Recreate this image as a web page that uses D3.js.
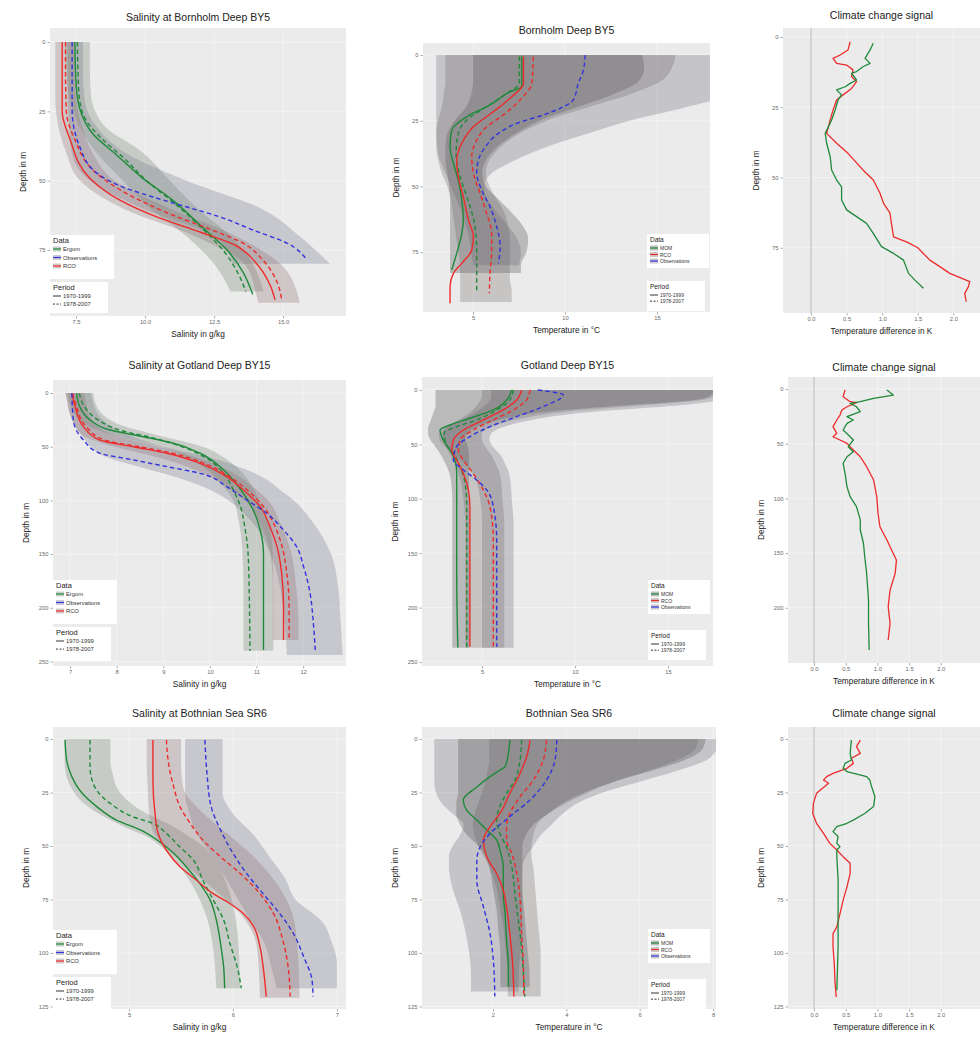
<!DOCTYPE html>
<html><head><meta charset="utf-8">
<script src="https://cdn.jsdelivr.net/npm/d3@7"></script>
<style>body{margin:0;background:#fff}svg{display:block}text{font-family:"Liberation Sans",Arial,Helvetica,sans-serif}</style>
</head><body><svg id="c" width="980" height="1038"></svg>
<script>
// ---------------- DATA ----------------
// pairs are [depth in m, value]; bands are [depth, low, high]
const dataLegendSal = ["Ergom","Observations","RCO"];
const dataLegendTemp = ["MOM","RCO","Observations"];
const periodLabels = ["1970-1999","1978-2007"];

// Row 1: Bornholm Deep BY5
const depthTicksBY5 = [0,25,50,75];
const salTicksBY5 = [7.5,10,12.5,15];
const tempTicksBY5 = [5,10,15];
const diffTicks = [0,0.5,1,1.5,2];

const by5SalErgom70 = [[0,7.46],[10,7.48],[20,7.55],[24.5,7.65],[33,8.1],[41,9.0],[49,9.9],[57,11.0],[67,12.1],[75,12.97],[83,13.55],[91,13.9]];
const by5SalErgom78 = [[0,7.55],[10,7.57],[20,7.62],[28,7.85],[35,8.45],[42,9.25],[50,10.05],[58,11.05],[68,12.15],[76,12.9],[84,13.4],[90,13.65]];
const by5SalObs78 = [[0,7.36],[10,7.36],[24.5,7.36],[37.9,7.64],[47.3,8.26],[52.3,9.2],[55.9,10.29],[59.5,11.52],[63.1,12.72],[67.8,13.91],[72.5,15.14],[78.6,15.87]];
const by5SalRco70 = [[0,7.0],[10,7.0],[25,7.0],[35,7.28],[49,7.99],[57,9.09],[63.5,10.54],[68.5,11.99],[73.2,13.26],[79.3,13.99],[87.6,14.53],[93,14.71]];
const by5SalRco78 = [[0,7.12],[10,7.12],[25,7.15],[35,7.45],[47,8.2],[55,9.4],[62,10.9],[67.5,12.35],[72.5,13.55],[79,14.3],[87,14.8],[93,14.95]];
const by5SalErgomBand = [[0,7.1,8.0],[10,7.15,8.0],[20,7.25,8.05],[25,7.4,8.2],[30,7.6,8.5],[40,8.25,9.94],[50,9.2,10.9],[60,10.2,11.9],[70,11.5,13.1],[80,12.5,13.9],[90,13.1,14.3]];
const by5SalObsBand = [[0,7.2,7.75],[10,7.2,7.75],[20,7.2,7.8],[30,7.25,8.2],[40,7.35,9.3],[50,8.0,11.5],[60,9.9,14.2],[70,12.5,15.6],[80,13.2,16.7]];
const by5SalRcoBand = [[0,6.75,7.45],[10,6.75,7.45],[20,6.75,7.5],[30,6.85,7.7],[40,7.15,8.1],[50,7.65,8.9],[60,9.2,10.9],[70,11.8,13.3],[80,13.6,14.9],[90,14.0,15.5],[94,14.1,15.6]];

const by5TempMom70 = [[0.6,7.65],[12.1,7.65],[14,7.01],[19,5.92],[23.5,4.66],[28.6,3.84],[34.9,3.75],[41.2,3.93],[47.6,4.2],[55.2,4.39],[62.8,4.47],[67.9,4.39],[75.5,4.11],[81.8,3.84]];
const by5TempMom78 = [[0.6,7.52],[10.8,7.52],[14.6,6.83],[19.7,5.74],[24.7,4.66],[29.8,4.2],[37.4,4.08],[43.8,4.2],[50.1,4.47],[57.7,4.84],[65.4,5.11],[75.5,5.2],[83.1,5.2],[90.7,5.2]];
const by5TempRco70 = [[0.6,7.74],[10.8,7.74],[15.9,7.1],[21.6,6.1],[27.3,5.02],[33.6,4.39],[40,4.11],[46.3,4.2],[53.9,4.47],[62.8,4.75],[69.2,5.02],[74.2,4.93],[79.3,4.39],[83.1,3.93],[88.2,3.75],[94.5,3.75]];
const by5TempRco78 = [[0.6,8.28],[10.8,8.19],[17.1,7.55],[22.8,6.65],[27.3,5.74],[32.4,5.2],[38.7,4.93],[45,5.02],[52.6,5.38],[60.3,5.74],[67.9,6.01],[75.5,6.01],[83.1,5.92],[90.7,5.89]];
const by5TempObs78 = [[0,11.09],[5.7,11.0],[10.8,10.72],[17.1,10.45],[19.7,9.91],[22.8,8.82],[26,7.38],[29.8,6.38],[34.3,5.74],[40,5.29],[45,5.2],[51.4,5.47],[57.7,5.92],[65.4,6.29],[73,6.47],[79.3,6.38]];
const by5TempMomBand = [[0,5.0,14.2],[5,5.0,14.3],[10,5.0,14.0],[15,4.9,12.6],[20,4.6,10.6],[25,4.0,8.6],[30,3.6,7.3],[35,3.5,6.3],[40,3.5,5.7],[45,3.6,5.5],[50,3.7,5.7],[55,3.75,6.4],[60,3.75,7.1],[65,3.75,7.7],[70,3.75,8.0],[75,3.75,7.9],[80,3.75,7.6],[83,3.75,7.6]];
const by5TempRcoBand = [[0,3.5,16.0],[5,3.5,15.8],[10,3.5,15.2],[15,3.4,13.5],[20,3.3,11.2],[25,3.1,9.0],[30,3.0,7.5],[35,3.0,6.5],[40,3.1,5.9],[45,3.3,5.7],[50,3.6,5.9],[55,3.8,6.3],[60,3.9,6.7],[65,4.0,6.9],[70,4.1,7.0],[75,4.2,7.0],[80,4.3,7.0],[85,4.3,7.0],[90,4.3,7.1],[94,4.3,7.1]];
const by5TempObsBand = [[0,3.0,19],[5,3.0,19],[10,3.0,19],[15,3.0,18.8],[20,3.0,16.5],[25,3.0,13.5],[30,3.0,11.2],[35,3.05,9.0],[40,3.2,7.3],[45,3.5,6.0],[50,3.8,5.6],[55,4.1,5.8],[60,4.4,6.3],[65,4.6,6.9],[70,4.8,7.4],[75,4.9,7.6],[80,5.0,7.5]];

const by5DiffRco = [[1.7,0.55],[4.6,0.52],[6.4,0.41],[7.6,0.31],[9.4,0.36],[10,0.5],[11.7,0.59],[14.1,0.57],[15.9,0.64],[18.3,0.57],[20.6,0.45],[22.4,0.36],[26,0.31],[29.5,0.27],[34.3,0.22],[37.8,0.36],[41.4,0.52],[47.3,0.73],[50.9,0.875],[55.6,0.97],[59.2,1.02],[62.7,1.11],[66.3,1.13],[71.1,1.16],[73,1.35],[75,1.5],[79.4,1.67],[81.7,1.81],[84.1,1.95],[85.9,2.12],[87,2.23],[88.9,2.21],[91.2,2.16],[94.2,2.18]];
const by5DiffMom = [[2.2,0.875],[4.6,0.83],[7.6,0.76],[9.4,0.83],[10.6,0.73],[12.3,0.64],[12.9,0.57],[15.3,0.64],[16.5,0.55],[17.7,0.48],[18.8,0.36],[20.6,0.43],[22.4,0.38],[26,0.34],[29.5,0.29],[34.3,0.2],[37.8,0.22],[42.6,0.27],[47.3,0.29],[50.9,0.36],[53.3,0.43],[58,0.43],[61.5,0.5],[63.9,0.64],[66.3,0.78],[69.9,0.875],[74.6,0.99],[77,1.16],[79.4,1.3],[84.1,1.37],[86.5,1.46],[89.4,1.58]];

// Row 2: Gotland Deep BY15
const depthTicksBY15 = [0,50,100,150,200,250];
const depthTicksBY15diff = [0,50,100,150,200];
const salTicksBY15 = [7,8,9,10,11,12];
const tempTicksBY15 = [5,10,15];

const by15SalErgom70 = [[0.3,7.14],[12.8,7.21],[25.1,7.43],[34.5,7.86],[40.7,8.57],[46.8,9.22],[56.1,9.79],[68.6,10.22],[81,10.5],[93.4,10.72],[108.9,10.93],[127.6,11.08],[149.3,11.15],[174.1,11.15],[199,11.15],[239.3,11.15]];
const by15SalErgom78 = [[0.3,7.2],[12,7.3],[25,7.6],[35,8.1],[42,8.8],[50,9.4],[60,9.9],[75,10.3],[90,10.5],[105,10.65],[125,10.75],[150,10.82],[200,10.85],[240,10.86]];
const by15SalRco70 = [[0.3,7.04],[12.8,7.11],[31.5,7.29],[43.9,7.64],[50.1,8.36],[56.1,9.08],[65.5,9.79],[77.9,10.36],[90.3,10.72],[105.8,11.08],[124.5,11.29],[143.1,11.44],[167.9,11.54],[199,11.58],[230,11.58]];
const by15SalRco78 = [[0.3,7.06],[12.8,7.14],[31.5,7.35],[43.9,7.75],[50.1,8.5],[56.1,9.2],[65.5,9.88],[77.9,10.42],[90.3,10.8],[105.8,11.15],[124.5,11.4],[143.1,11.55],[167.9,11.65],[199,11.7],[230,11.7]];
const by15SalObs78 = [[0.3,7.04],[25.1,7.07],[43.9,7.29],[56.1,7.64],[62.3,8.36],[68.6,9.08],[74.8,9.79],[87.2,10.36],[99.6,10.79],[112,11.22],[127.6,11.58],[143.1,11.86],[161.7,12.01],[186.6,12.15],[214.5,12.22],[239.3,12.26]];
const by15SalErgomBand = [[0,6.95,7.5],[10,7.0,7.55],[20,7.1,7.7],[30,7.35,8.1],[40,8.0,8.95],[50,8.95,9.85],[60,9.5,10.3],[70,9.9,10.6],[80,10.15,10.8],[90,10.35,10.95],[100,10.5,11.05],[120,10.62,11.25],[150,10.7,11.35],[180,10.72,11.36],[210,10.72,11.36],[240,10.72,11.36]];
const by15SalRcoBand = [[0,6.9,7.3],[10,6.95,7.35],[20,7.0,7.4],[30,7.1,7.55],[40,7.3,8.0],[50,7.95,8.9],[60,8.9,9.7],[70,9.6,10.3],[80,10.1,10.7],[90,10.45,11.0],[100,10.75,11.25],[120,11.05,11.5],[150,11.3,11.75],[180,11.35,11.85],[210,11.35,11.9],[230,11.35,11.9]];
const by15SalObsBand = [[0,6.9,7.45],[10,6.95,7.5],[20,7.0,7.6],[30,7.1,7.85],[40,7.25,8.3],[50,7.45,9.0],[60,7.8,10.0],[70,8.6,10.7],[80,9.4,11.2],[90,10.0,11.5],[100,10.4,11.8],[120,10.9,12.2],[150,11.3,12.6],[180,11.5,12.75],[210,11.6,12.8],[244,11.65,12.85]];

const by15TempMom70 = [[0,6.6],[9.2,6.33],[18.4,5.61],[26,4.35],[32.2,3.28],[36.8,2.74],[46,2.92],[55.3,3.28],[64.5,3.55],[76.8,3.64],[107.6,3.64],[169,3.64],[236.6,3.7]];
const by15TempMom78 = [[0,6.68],[9.2,6.5],[18.4,5.79],[27.6,4.71],[33.7,3.64],[39.8,2.96],[49,3.05],[58.2,3.46],[70.5,3.82],[85.8,4.09],[107.4,4.18],[168.6,4.18],[236,4.18]];
const by15TempRco70 = [[0,7.13],[9.2,6.86],[18.4,6.14],[27.6,5.07],[36.8,4.0],[46,3.46],[55.3,3.37],[64.5,3.64],[76.8,4.0],[92.1,4.27],[107.4,4.35],[138,4.35],[168.6,4.35],[236,4.35]];
const by15TempRco78 = [[0,7.58],[9.2,7.4],[18.4,6.68],[27.6,5.61],[36.8,4.53],[46,3.82],[55.3,3.73],[64.5,4.0],[76.8,4.53],[92.1,5.07],[107.4,5.43],[138,5.61],[168.6,5.61],[236,5.61]];
const by15TempObs78 = [[0,8.0],[4.6,9.37],[15.3,8.29],[24.5,6.86],[33.7,5.43],[42.9,4.35],[52.1,3.64],[64.3,3.46],[73.5,4.0],[82.7,4.71],[91.9,5.25],[107.3,5.61],[137.9,5.79],[168.5,5.79],[235.9,5.79]];
const by15TempMomBand = [[0,2.5,17.5],[5,2.5,17.3],[10,2.5,16.0],[15,2.5,12],[20,2.4,8.5],[25,2.3,6.6],[30,2.2,5.4],[35,2.1,4.6],[40,2.1,4.2],[45,2.2,4.1],[50,2.4,4.2],[60,2.8,4.3],[70,3.1,4.3],[80,3.3,4.3],[100,3.4,4.3],[125,3.4,4.3],[150,3.4,4.3],[175,3.4,4.3],[200,3.4,4.3],[225,3.4,4.3],[237,3.4,4.3]];
const by15TempRcoBand = [[0,5.0,17.8],[5,5.0,17.6],[10,4.9,16.5],[15,4.7,13],[20,4.4,9.5],[25,4.0,7.5],[30,3.5,6.2],[35,3.1,5.4],[40,2.9,5.0],[45,2.9,5.0],[50,3.0,5.1],[60,3.3,5.5],[70,3.6,5.8],[80,3.8,6.0],[100,4.0,6.1],[125,4.1,6.2],[150,4.1,6.2],[175,4.1,6.2],[200,4.1,6.2],[225,4.1,6.2],[237,4.1,6.2]];
const by15TempObsBand = [[0,5.5,18],[5,5.5,18],[10,5.4,17.5],[15,5.1,15],[20,4.7,11],[25,4.2,8.5],[30,3.6,7.0],[35,3.0,6.0],[40,2.7,5.5],[45,2.7,5.4],[50,2.9,5.5],[60,3.5,6.0],[70,4.2,6.3],[80,4.6,6.5],[100,4.9,6.6],[125,5.0,6.7],[150,5.0,6.7],[175,5.0,6.7],[200,5.0,6.7],[225,5.0,6.7],[237,5.0,6.7]];

const by15DiffMom = [[0.9,1.15],[5.5,1.25],[8.5,0.94],[11.6,0.73],[13.1,0.57],[16.2,0.67],[20.7,0.73],[25.3,0.52],[28.3,0.62],[31.4,0.52],[37.5,0.46],[43.6,0.57],[46.6,0.62],[52.7,0.54],[57.3,0.62],[61.9,0.52],[67.9,0.46],[77.1,0.49],[89.3,0.52],[98.4,0.57],[107.6,0.67],[119.7,0.73],[128.9,0.73],[141,0.78],[153.3,0.8],[168.5,0.83],[192.9,0.86],[214.2,0.86],[238.6,0.87]];
const by15DiffRco = [[0.9,0.49],[7,0.46],[11.6,0.57],[12.5,0.67],[16.2,0.52],[19.2,0.44],[23.8,0.41],[28.3,0.36],[34.4,0.3],[40.5,0.36],[43.6,0.3],[46.6,0.41],[49.7,0.52],[55.8,0.62],[61.9,0.73],[71,0.83],[83.2,0.94],[98.4,0.99],[113.7,1.01],[125.9,1.04],[138.1,1.15],[150.3,1.25],[156.4,1.3],[168.5,1.28],[183.8,1.2],[199,1.17],[214.2,1.2],[229.5,1.17]];

// Row 3: Bothnian Sea SR6
const depthTicksSR5 = [0,25,50,75,100,125];
const salTicksSR5 = [5,6,7];
const tempTicksSR5 = [2,4,6,8];

const sr5SalErgom70 = [[0.5,4.385],[9.8,4.4],[17.6,4.45],[25.4,4.55],[31.6,4.69],[37.9,4.88],[42.5,5.11],[47.2,5.27],[53.4,5.43],[59.7,5.55],[67.5,5.68],[75.2,5.78],[84.6,5.84],[95.5,5.88],[106.4,5.91],[116.5,5.92]];
const sr5SalErgom78 = [[0.5,4.625],[13.1,4.625],[22.4,4.67],[30.1,4.82],[36.4,5.04],[39.5,5.23],[44.2,5.36],[50.5,5.49],[56.7,5.62],[66,5.71],[75.2,5.81],[84.6,5.91],[95.5,5.97],[106.4,6.04],[116.5,6.08]];
const sr5SalRco70 = [[0.5,5.23],[19.2,5.23],[34.8,5.25],[44.2,5.28],[52,5.36],[59.7,5.49],[66,5.65],[72.3,5.81],[76.9,5.97],[81.6,6.1],[87.8,6.2],[97.2,6.26],[106.4,6.29],[120.4,6.32]];
const sr5SalRco78 = [[0.5,5.36],[11.3,5.38],[22.4,5.43],[31.6,5.49],[39.5,5.59],[47.2,5.71],[55,5.88],[62.9,6.07],[72.3,6.26],[81.6,6.39],[94.1,6.48],[106.4,6.53],[120.4,6.55]];
const sr5SalObs78 = [[0.5,5.73],[16.1,5.75],[31.6,5.79],[42.5,5.88],[53.4,6.0],[62.8,6.13],[72.3,6.29],[81.6,6.45],[90.8,6.58],[101.8,6.68],[112.6,6.76],[120.4,6.77]];
const sr5SalErgomBand = [[0,4.38,4.82],[10,4.38,4.82],[17.6,4.4,4.85],[22.4,4.44,4.88],[28.5,4.53,4.98],[33.2,4.65,5.11],[37.9,4.82,5.3],[41,4.95,5.43],[45.6,5.17,5.58],[48.8,5.27,5.68],[58.1,5.46,5.84],[72.1,5.65,5.97],[89.3,5.78,6.04],[116.5,5.84,6.07]];
const sr5SalRcoBand = [[0,5.17,5.5],[10,5.17,5.5],[22.4,5.18,5.52],[33.2,5.19,5.68],[44.1,5.24,5.94],[55,5.45,6.2],[67.5,5.75,6.42],[81.6,6.07,6.57],[97.2,6.23,6.62],[121,6.26,6.64]];
const sr5SalObsBand = [[0,5.54,5.9],[10,5.54,5.9],[20,5.54,5.9],[25,5.54,5.9],[35,5.58,6.0],[45,5.66,6.2],[55,5.8,6.35],[65,5.93,6.5],[75,6.05,6.6],[85,6.17,6.85],[95,6.3,6.95],[105,6.36,7.0],[116.5,6.42,7.0]];

const sr5TempMom70 = [[0.5,2.46],[6.7,2.42],[12.9,2.33],[14.5,2.19],[17.6,1.92],[22.4,1.56],[28.5,1.19],[33.2,1.28],[37.9,1.56],[42.5,1.83],[47.2,2.1],[51.9,2.19],[59.7,2.28],[72.3,2.28],[81.6,2.33],[94,2.37],[106.4,2.42],[115.7,2.42]];
const sr5TempMom78 = [[0.5,2.78],[9.8,2.74],[19.2,2.6],[25.4,2.37],[31.6,2.19],[37.9,2.1],[44.2,2.19],[50.5,2.37],[59.7,2.51],[72.3,2.6],[84.6,2.69],[97.2,2.78],[109.7,2.83],[120.4,2.87]];
const sr5TempRco70 = [[0.5,3.01],[8.2,2.92],[16,2.74],[25.4,2.46],[34.8,2.19],[41,1.92],[47.2,1.74],[55,1.83],[62.9,2.1],[70.7,2.28],[78.5,2.37],[91,2.46],[106.4,2.54],[120.4,2.57]];
const sr5TempRco78 = [[0.5,3.46],[9.8,3.37],[19.2,3.1],[27,2.74],[34.8,2.46],[41,2.37],[47.2,2.37],[53.4,2.51],[62.9,2.65],[75.3,2.74],[91,2.78],[106.4,2.83],[120.4,2.84]];
const sr5TempObs78 = [[0.5,3.74],[9.8,3.69],[19.2,3.46],[28.5,3.01],[36.3,2.46],[44.2,1.92],[50.5,1.65],[56.7,1.56],[66,1.56],[78.5,1.74],[91,1.92],[103.5,2.01],[120.4,2.05]];
const sr5TempMomBand = [[0,1.05,7.8],[5,1.05,7.7],[10,1.05,7.2],[15,1.05,6.3],[20,1.05,5.3],[25,1.05,4.5],[30,1.0,3.9],[35,1.0,3.5],[40,1.1,3.1],[45,1.3,2.9],[50,1.6,2.8],[55,1.8,2.8],[60,1.9,2.8],[70,2.0,2.8],[80,2.1,2.85],[90,2.15,2.9],[100,2.2,2.95],[110,2.2,3.0],[116,2.2,3.0]];
const sr5TempRcoBand = [[0,1.9,7.6],[5,1.9,7.5],[10,1.9,7.0],[15,1.85,6.2],[20,1.8,5.3],[25,1.7,4.6],[30,1.6,4.0],[35,1.5,3.5],[40,1.45,3.2],[45,1.5,3.1],[50,1.6,3.05],[55,1.75,3.05],[60,1.9,3.1],[70,2.1,3.15],[80,2.2,3.2],[90,2.3,3.25],[100,2.35,3.3],[110,2.4,3.3],[120.4,2.4,3.3]];
const sr5TempObsBand = [[0,0.4,8.2],[5,0.4,8.1],[10,0.4,7.8],[15,0.4,7.0],[20,0.4,6.0],[25,0.45,5.0],[30,0.6,4.3],[35,0.9,3.9],[40,1.2,3.6],[45,1.1,3.3],[50,0.9,3.1],[55,0.8,2.9],[60,0.8,2.8],[70,0.9,2.8],[80,1.1,2.8],[90,1.25,2.8],[100,1.35,2.75],[110,1.4,2.7],[118,1.4,2.7]];

const sr5DiffMom = [[0.5,0.59],[6.7,0.57],[9.8,0.59],[11.4,0.49],[13.7,0.46],[15.3,0.52],[17.6,0.83],[19.2,0.88],[22.4,0.91],[26.9,0.96],[31.6,0.94],[34.8,0.8],[37.9,0.62],[39.4,0.52],[41,0.36],[43.3,0.3],[45.6,0.38],[48.8,0.36],[50.3,0.41],[51.9,0.36],[55,0.36],[65.9,0.38],[81.6,0.38],[97.2,0.38],[117.4,0.36]];
const sr5DiffRco = [[0.5,0.73],[3.6,0.67],[6.7,0.73],[9,0.59],[11.4,0.62],[13.7,0.52],[16.1,0.3],[17.6,0.2],[19.2,0.15],[20.7,0.23],[25.4,0.04],[30.1,-0.01],[34.8,-0.02],[39.4,0.04],[44.1,0.15],[48.8,0.25],[51.9,0.36],[55,0.46],[58.1,0.57],[62.8,0.57],[69.1,0.52],[75.3,0.46],[81.6,0.41],[87.8,0.36],[91,0.3],[97.2,0.3],[105,0.32],[112.8,0.33],[120.6,0.35]];

// ---------------- STYLE ----------------
const COL = {green:"#1f8a3a", red:"#ee2b2b", blue:"#3333dd"};
const BANDS = {
  salG:"rgba(112,130,112,0.30)", salB:"rgba(116,116,140,0.30)", salR:"rgba(140,114,114,0.30)",
  tMom:"rgba(92,92,92,0.34)", tRco:"rgba(116,106,106,0.30)", tObs:"rgba(108,108,122,0.30)"
};
const DASH = "4.5,3";
const svg = d3.select("#c");

const legendSal = [
  {label:dataLegendSal[0], color:COL.green, fill:BANDS.salG},
  {label:dataLegendSal[1], color:COL.blue, fill:BANDS.salB},
  {label:dataLegendSal[2], color:COL.red, fill:BANDS.salR}];
const legendTemp = [
  {label:dataLegendTemp[0], color:COL.green, fill:BANDS.tMom},
  {label:dataLegendTemp[1], color:COL.red, fill:BANDS.tRco},
  {label:dataLegendTemp[2], color:COL.blue, fill:BANDS.tObs}];

const salLines = (e70,e78,obs,r70,r78) => [
  {d:e70,c:COL.green},{d:e78,c:COL.green,dash:true},
  {d:r70,c:COL.red},{d:r78,c:COL.red,dash:true},{d:obs,c:COL.blue,dash:true}];
const tempLines = (m70,m78,r70,r78,obs) => [
  {d:m70,c:COL.green},{d:m78,c:COL.green,dash:true},
  {d:r70,c:COL.red},{d:r78,c:COL.red,dash:true},{d:obs,c:COL.blue,dash:true}];

const panels = [
 {id:"p11", title:"Salinity at Bornholm Deep BY5", ty:21, rect:[50,346,28,316], xDom:[6.558,17.28], yDom:[-5.05,98.8],
  xTicks:salTicksBY5, fmt:".1f", yTicks:depthTicksBY5, xTitle:"Salinity in g/kg",
  bands:[{d:by5SalObsBand,f:BANDS.salB},{d:by5SalErgomBand,f:BANDS.salG},{d:by5SalRcoBand,f:BANDS.salR}],
  lines:salLines(by5SalErgom70,by5SalErgom78,by5SalObs78,by5SalRco70,by5SalRco78),
  legend:{x:50,y:235,w:64,h:44,py:282,pw:58,ph:31,ts:7.5,fs:5.8,row:8.5,items:legendSal}},
 {id:"p12", title:"Bornholm Deep BY5", ty:34, rect:[423,710,43,312], xDom:[2.28,17.88], yDom:[-4.57,97.8],
  xTicks:tempTicksBY5, fmt:"d", yTicks:depthTicksBY5, xTitle:"Temperature in °C",
  bands:[{d:by5TempObsBand,f:BANDS.tObs},{d:by5TempRcoBand,f:BANDS.tRco},{d:by5TempMomBand,f:BANDS.tMom}],
  lines:tempLines(by5TempMom70,by5TempMom78,by5TempRco70,by5TempRco78,by5TempObs78),
  legend:{x:647,y:234,w:62,h:34,py:281,pw:58,ph:30,ts:6.5,fs:5,row:6.5,items:legendTemp}},
 {id:"p13", title:"Climate change signal", ty:19, rect:[783,980,28,313], xDom:[-0.393,2.374], yDom:[-3.2,98.2],
  xTicks:diffTicks, fmt:".1f", yTicks:depthTicksBY5, xTitle:"Temperature difference in K", zero:true,
  bands:[], lines:[{d:by5DiffRco,c:COL.red,lin:true},{d:by5DiffMom,c:COL.green,lin:true}]},

 {id:"p21", title:"Salinity at Gotland Deep BY15", ty:369, rect:[53,346,380,666], xDom:[6.635,12.92], yDom:[-12.1,254.2],
  xTicks:salTicksBY15, fmt:"d", yTicks:depthTicksBY15, xTitle:"Salinity in g/kg",
  bands:[{d:by15SalObsBand,f:BANDS.salB},{d:by15SalErgomBand,f:BANDS.salG},{d:by15SalRcoBand,f:BANDS.salR}],
  lines:salLines(by15SalErgom70,by15SalErgom78,by15SalObs78,by15SalRco70,by15SalRco78),
  legend:{x:53,y:580,w:64,h:44,py:627,pw:58,ph:34,ts:7.5,fs:5.8,row:8.5,items:legendSal}},
 {id:"p22", title:"Gotland Deep BY15", ty:369, rect:[422,713,377,666], xDom:[1.774,17.42], yDom:[-11.9,253.7],
  xTicks:tempTicksBY15, fmt:"d", yTicks:depthTicksBY15, xTitle:"Temperature in °C",
  bands:[{d:by15TempObsBand,f:BANDS.tObs},{d:by15TempRcoBand,f:BANDS.tRco},{d:by15TempMomBand,f:BANDS.tMom}],
  lines:tempLines(by15TempMom70,by15TempMom78,by15TempRco70,by15TempRco78,by15TempObs78),
  legend:{x:648,y:580,w:62,h:34,py:630,pw:58,ph:30,ts:6.5,fs:5,row:6.5,items:legendTemp}},
 {id:"p23", title:"Climate change signal", ty:371, rect:[788,980,377,663], xDom:[-0.41,2.618], yDom:[-11,250.5],
  xTicks:diffTicks, fmt:".1f", yTicks:depthTicksBY15diff, xTitle:"Temperature difference in K", zero:true,
  bands:[], lines:[{d:by15DiffRco,c:COL.red,lin:true},{d:by15DiffMom,c:COL.green,lin:true}]},

 {id:"p31", title:"Salinity at Bothnian Sea SR6", ty:717, rect:[53,346,727,1009], xDom:[4.269,7.087], yDom:[-5.6,126.2],
  xTicks:salTicksSR5, fmt:"d", yTicks:depthTicksSR5, xTitle:"Salinity in g/kg",
  bands:[{d:sr5SalObsBand,f:BANDS.salB},{d:sr5SalErgomBand,f:BANDS.salG},{d:sr5SalRcoBand,f:BANDS.salR}],
  lines:salLines(sr5SalErgom70,sr5SalErgom78,sr5SalObs78,sr5SalRco70,sr5SalRco78),
  legend:{x:53,y:930,w:64,h:44,py:977,pw:58,ph:32,ts:7.5,fs:5.8,row:8.5,items:legendSal}},
 {id:"p32", title:"Bothnian Sea SR6", ty:717, rect:[422,716,727,1009], xDom:[0.065,8.08], yDom:[-5.6,126.2],
  xTicks:tempTicksSR5, fmt:"d", yTicks:depthTicksSR5, xTitle:"Temperature in °C",
  bands:[{d:sr5TempObsBand,f:BANDS.tObs},{d:sr5TempRcoBand,f:BANDS.tRco},{d:sr5TempMomBand,f:BANDS.tMom}],
  lines:tempLines(sr5TempMom70,sr5TempMom78,sr5TempRco70,sr5TempRco78,sr5TempObs78),
  legend:{x:648,y:929,w:62,h:34,py:979,pw:58,ph:30,ts:6.5,fs:5,row:6.5,items:legendTemp}},
 {id:"p33", title:"Climate change signal", ty:717, rect:[788,980,727,1009], xDom:[-0.41,2.618], yDom:[-5.6,126.2],
  xTicks:diffTicks, fmt:".1f", yTicks:depthTicksSR5, xTitle:"Temperature difference in K", zero:true,
  bands:[], lines:[{d:sr5DiffRco,c:COL.red,lin:true},{d:sr5DiffMom,c:COL.green,lin:true}]}
];

function drawLegend(lg) {
  const g = svg.append("g");
  g.append("rect").attr("x",lg.x).attr("y",lg.y).attr("width",lg.w).attr("height",lg.h).attr("fill","#fff");
  g.append("text").attr("x",lg.x+3).attr("y",lg.y+8).attr("font-size",lg.ts).attr("fill","#222").text("Data");
  lg.items.forEach((it,i)=>{
    const cy = lg.y + 14 + i*lg.row;
    g.append("rect").attr("x",lg.x+3).attr("y",cy-2.5).attr("width",8).attr("height",5).attr("fill","#f2f2f2");
    g.append("rect").attr("x",lg.x+3).attr("y",cy-2.5).attr("width",8).attr("height",5).attr("fill",it.fill);
    g.append("line").attr("x1",lg.x+3).attr("x2",lg.x+11).attr("y1",cy).attr("y2",cy).attr("stroke",it.color).attr("stroke-width",1.2);
    g.append("text").attr("x",lg.x+13).attr("y",cy+2).attr("font-size",lg.fs).attr("fill","#333").text(it.label);
  });
  g.append("rect").attr("x",lg.x).attr("y",lg.py).attr("width",lg.pw).attr("height",lg.ph).attr("fill","#fff");
  g.append("text").attr("x",lg.x+3).attr("y",lg.py+8).attr("font-size",lg.ts).attr("fill","#222").text("Period");
  periodLabels.forEach((lab,i)=>{
    const cy = lg.py + 14 + i*(lg.row*0.95);
    g.append("line").attr("x1",lg.x+3).attr("x2",lg.x+11).attr("y1",cy).attr("y2",cy).attr("stroke","#333").attr("stroke-width",1)
      .attr("stroke-dasharray", i===1 ? "2,1.5" : null);
    g.append("text").attr("x",lg.x+13).attr("y",cy+2).attr("font-size",lg.fs).attr("fill","#333").text(lab);
  });
}

function drawPanel(p) {
  const [L,R,T,B] = p.rect;
  const x = d3.scaleLinear().domain(p.xDom).range([L,R]);
  const y = d3.scaleLinear().domain(p.yDom).range([T,B]);
  const g = svg.append("g");
  g.append("rect").attr("x",L).attr("y",T).attr("width",R-L).attr("height",B-T).attr("fill","#ebebeb");
  g.selectAll(".gx").data(p.xTicks).join("line").attr("x1",d=>x(d)).attr("x2",d=>x(d)).attr("y1",T).attr("y2",B)
    .attr("stroke","#f7f7f7").attr("stroke-width",0.7);
  g.selectAll(".gy").data(p.yTicks).join("line").attr("y1",d=>y(d)).attr("y2",d=>y(d)).attr("x1",L).attr("x2",R)
    .attr("stroke","#f7f7f7").attr("stroke-width",0.7);
  svg.append("clipPath").attr("id","clip-"+p.id).append("rect").attr("x",L).attr("y",T).attr("width",R-L).attr("height",B-T);
  const inner = g.append("g").attr("clip-path",`url(#clip-${p.id})`);
  const area = d3.area().y(d=>y(d[0])).x0(d=>x(d[1])).x1(d=>x(d[2])).curve(d3.curveMonotoneY);
  p.bands.forEach(b=> inner.append("path").datum(b.d).attr("d",area).attr("fill",b.f));
  if (p.zero) inner.append("line").attr("x1",x(0)).attr("x2",x(0)).attr("y1",T).attr("y2",B).attr("stroke","#a8a8a8").attr("stroke-width",0.8);
  p.lines.forEach(l=>{
    const line = d3.line().y(d=>y(d[0])).x(d=>x(d[1])).curve(l.lin ? d3.curveLinear : d3.curveMonotoneY);
    inner.append("path").datum(l.d).attr("d",line).attr("fill","none").attr("stroke",l.c)
      .attr("stroke-width",l.lin?1.3:1.4).attr("stroke-dasharray",l.dash?DASH:null).attr("stroke-linejoin","round");
  });
  const xa = g.append("g").attr("transform",`translate(0,${B})`)
    .call(d3.axisBottom(x).tickValues(p.xTicks).tickFormat(d3.format(p.fmt)).tickSize(2.5).tickPadding(1.5));
  const ya = g.append("g").attr("transform",`translate(${L},0)`)
    .call(d3.axisLeft(y).tickValues(p.yTicks).tickFormat(d3.format("d")).tickSize(2.5).tickPadding(2));
  [xa,ya].forEach(a=>{
    a.select(".domain").remove();
    a.selectAll("line").attr("stroke","#7a7a7a").attr("stroke-width",0.6);
    a.selectAll("text").attr("font-size",5.8).attr("fill","#6a6a6a").attr("font-family",'"Liberation Sans",Arial,sans-serif');
  });
  g.append("text").attr("x",(L+R)/2).attr("y",p.ty).attr("text-anchor","middle").attr("font-size",10.5).attr("fill","#222").text(p.title);
  g.append("text").attr("x",(L+R)/2).attr("y",B+21).attr("text-anchor","middle").attr("font-size",8.3).attr("fill","#222").text(p.xTitle);
  g.append("text").attr("transform",`translate(${L-24},${(T+B)/2}) rotate(-90)`).attr("text-anchor","middle")
    .attr("font-size",8.3).attr("fill","#222").text("Depth in m");
  if (p.legend) drawLegend(p.legend);
}
panels.forEach(drawPanel);
</script></body></html>
